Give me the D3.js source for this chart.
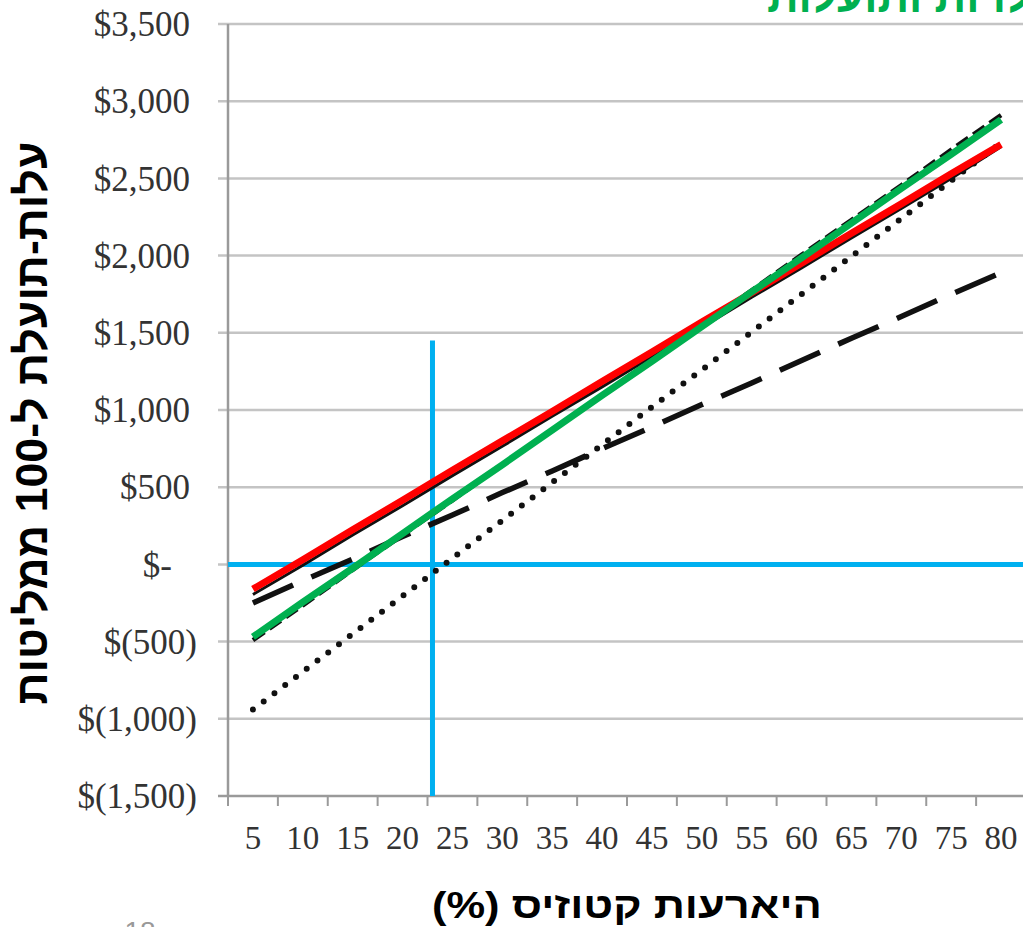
<!DOCTYPE html>
<html>
<head>
<meta charset="utf-8">
<script src="https://cdn.jsdelivr.net/npm/d3@7"></script>
<style>
  body { margin: 0; background: #fff; }
  svg { display: block; }
</style>
</head>
<body>
<div class="svg-container"></div>
<script>
// x categories (ketosis incidence, %)
const categories = [5, 10, 15, 20, 25, 30, 35, 40, 45, 50, 55, 60, 65, 70, 75, 80];

// series values ($ per 100 calvings)
const redLine        = [-160, 30, 225, 415, 610, 800, 990, 1185, 1375, 1570, 1760, 1950, 2145, 2335, 2530, 2720];
const blackSolid     = [-195, -5, 190, 380, 575, 765, 960, 1150, 1345, 1535, 1730, 1920, 2115, 2305, 2500, 2705];
const greenLine      = [-470, -245, -25, 200, 425, 645, 870, 1095, 1315, 1540, 1765, 1985, 2210, 2435, 2655, 2880];
const blackShortDash = [-490, -265, -35, 190, 415, 645, 870, 1095, 1325, 1550, 1775, 2005, 2230, 2455, 2685, 2910];
const blackLongDash  = [-250, -105, 35, 180, 320, 465, 605, 750, 890, 1035, 1175, 1320, 1465, 1605, 1750, 1890];
const blackDotted    = [-940, -695, -450, -205, 40, 285, 530, 775, 1020, 1260, 1505, 1750, 1995, 2240, 2485, 2730];

// y ticks
const yTicks = [-1500, -1000, -500, 0, 500, 1000, 1500, 2000, 2500, 3000, 3500];

// cyan marker lines
const markerX = 23;       // % incidence
const markerTop = 1450;   // $ where the vertical marker stops
const markerY = 0;        // break-even line

const yTitle = "עלות-תועלת ל-100 ממליטות";
const xTitle = "היארעות קטוזיס (%)";
const topTitle = "עלויות ותועלות";
const pageNum = "18";

const W = 1023, H = 927;
const margin = {top: 24, left: 228, bottom: 796, right: 1026};

const svg = d3.select('.svg-container')
    .append('svg')
    .attr('width', W)
    .attr('height', H);

svg.append('rect').attr('width', W).attr('height', H).attr('fill', '#fff');

const x = d3.scaleBand()
    .domain(categories)
    .range([margin.left, margin.right])
    .padding(0);

const xLin = d3.scaleLinear()
    .domain([categories[0], categories[categories.length - 1]])
    .range([x(categories[0]) + x.bandwidth() / 2, x(categories[categories.length - 1]) + x.bandwidth() / 2]);

const y = d3.scaleLinear()
    .domain([-1500, 3500])
    .range([margin.bottom, margin.top]);

const fmt = d3.format(",");
function money(v) {
  if (v === 0) return "$-";
  if (v < 0) return "$(" + fmt(-v) + ")";
  return "$" + fmt(v);
}

// green title, cut off at the top of the page
svg.append("text")
    .attr("x", 767)
    .attr("y", 12)
    .attr("font-family", "Liberation Sans, Arial, sans-serif")
    .attr("font-weight", "bold")
    .attr("font-size", 44)
    .attr("fill", "#00B050")
    .text(topTitle);

// gridlines
svg.append("g")
  .selectAll("line")
  .data(yTicks.slice(1))
  .enter().append("line")
    .attr("x1", margin.left - 10)
    .attr("x2", W)
    .attr("y1", d => y(d))
    .attr("y2", d => y(d))
    .attr("stroke", "#c4c4c4")
    .attr("stroke-width", 2.5);

// axes
svg.append("line")
    .attr("x1", margin.left).attr("x2", margin.left)
    .attr("y1", y(3500)).attr("y2", y(-1500))
    .attr("stroke", "#9a9a9a").attr("stroke-width", 2.5);

svg.append("line")
    .attr("x1", margin.left - 10).attr("x2", W)
    .attr("y1", y(-1500)).attr("y2", y(-1500))
    .attr("stroke", "#9a9a9a").attr("stroke-width", 2.5);

// x ticks at category boundaries
const bounds = categories.map(c => x(c)).concat([x(categories[categories.length - 1]) + x.bandwidth()]);
svg.append("g")
  .selectAll("line")
  .data(bounds)
  .enter().append("line")
    .attr("x1", d => d).attr("x2", d => d)
    .attr("y1", y(-1500)).attr("y2", y(-1500) + 10)
    .attr("stroke", "#9a9a9a").attr("stroke-width", 2);

// y tick labels
svg.append("g")
  .selectAll("text")
  .data(yTicks)
  .enter().append("text")
    .attr("x", d => d === 0 ? 172 : (d < 0 ? 197 : 190))
    .attr("y", d => y(d))
    .attr("dy", "0.35em")
    .attr("text-anchor", "end")
    .attr("font-family", "Liberation Serif, Times New Roman, serif")
    .attr("font-size", 35)
    .attr("fill", "#333")
    .text(money);

// x tick labels
svg.append("g")
  .selectAll("text")
  .data(categories)
  .enter().append("text")
    .attr("x", d => x(d) + x.bandwidth() / 2)
    .attr("y", 849)
    .attr("text-anchor", "middle")
    .attr("font-family", "Liberation Serif, Times New Roman, serif")
    .attr("font-size", 33)
    .attr("fill", "#333")
    .text(d => d);

// cyan marker lines
svg.append("line")
    .attr("x1", margin.left).attr("x2", W)
    .attr("y1", y(markerY)).attr("y2", y(markerY))
    .attr("stroke", "#00B0F0").attr("stroke-width", 5);

svg.append("line")
    .attr("x1", xLin(markerX)).attr("x2", xLin(markerX))
    .attr("y1", y(markerTop)).attr("y2", y(-1500))
    .attr("stroke", "#00B0F0").attr("stroke-width", 5);

// series
const line = d3.line()
    .x((d, i) => x(categories[i]) + x.bandwidth() / 2)
    .y(d => y(d));

const series = [
  {values: blackDotted,    color: "#111", width: 6, dash: "0,13.5", cap: "round"},
  {values: blackLongDash,  color: "#111", width: 5.5, dash: "44,20", cap: "butt"},
  {values: blackShortDash, color: "#111", width: 4.5, dash: "14,6", cap: "butt"},
  {values: blackSolid,     color: "#111", width: 3, dash: null, cap: "butt"},
  {values: redLine,        color: "#FF0000", width: 7, dash: null, cap: "butt"},
  {values: greenLine,      color: "#00B050", width: 7, dash: null, cap: "butt"}
];

svg.append("g")
  .selectAll("path")
  .data(series)
  .enter().append("path")
    .attr("d", d => line(d.values))
    .attr("fill", "none")
    .attr("stroke", d => d.color)
    .attr("stroke-width", d => d.width)
    .attr("stroke-dasharray", d => d.dash)
    .attr("stroke-linecap", d => d.cap);

// axis titles
svg.append("text")
    .attr("transform", "translate(47,423) rotate(-90)")
    .attr("direction", "rtl")
    .attr("text-anchor", "middle")
    .attr("font-family", "Liberation Sans, Arial, sans-serif")
    .attr("font-weight", "bold")
    .attr("font-size", 44)
    .attr("fill", "#000")
    .attr("textLength", 563)
    .attr("lengthAdjust", "spacingAndGlyphs")
    .text(yTitle);

svg.append("text")
    .attr("x", 627)
    .attr("y", 918)
    .attr("direction", "rtl")
    .attr("text-anchor", "middle")
    .attr("font-family", "Liberation Sans, Arial, sans-serif")
    .attr("font-weight", "bold")
    .attr("font-size", 37)
    .attr("fill", "#000")
    .attr("textLength", 390)
    .attr("lengthAdjust", "spacingAndGlyphs")
    .text(xTitle);

// page number, cut off at the bottom of the page
svg.append("text")
    .attr("x", 140)
    .attr("y", 941)
    .attr("text-anchor", "middle")
    .attr("font-family", "Liberation Sans, Arial, sans-serif")
    .attr("font-size", 28)
    .attr("fill", "#999")
    .text(pageNum);
</script>
</body>
</html>
